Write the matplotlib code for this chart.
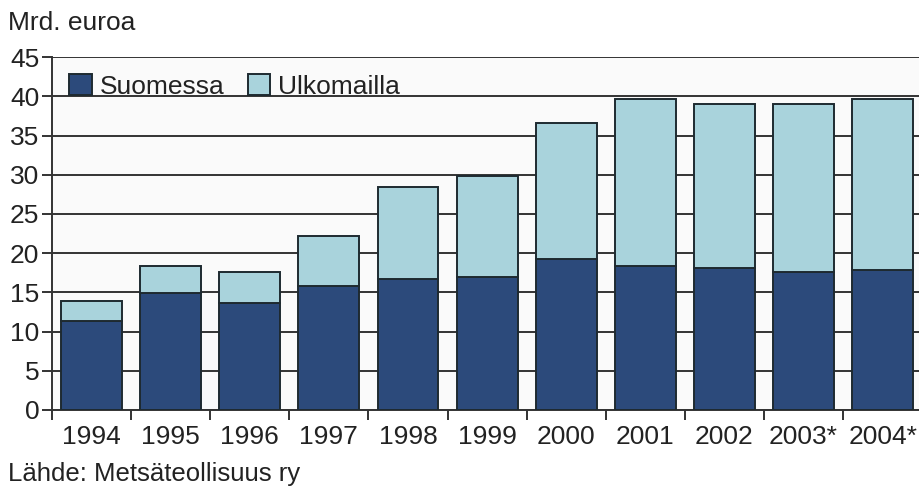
import numpy as np
import matplotlib.pyplot as plt

plt.rcParams['font.family'] = ['Liberation Sans', 'DejaVu Sans']

years = ['1994', '1995', '1996', '1997', '1998', '1999', '2000', '2001', '2002', '2003*', '2004*']
suomessa = [11.3, 14.9, 13.7, 15.8, 16.7, 17.0, 19.3, 18.4, 18.1, 17.6, 17.8]
yhteensa = [13.9, 18.4, 17.6, 22.2, 28.4, 29.8, 36.6, 39.7, 39.0, 39.0, 39.7]
ulkomailla = [t - s for t, s in zip(yhteensa, suomessa)]

dark = '#2c4a7b'
light = '#a9d3dc'
edge = '#1e2a30'

fig = plt.figure(figsize=(9.2, 4.88), dpi=100)
ax = fig.add_axes([0.0565, 0.16, 0.946, 0.723])
ax.set_facecolor('#fafafa')

x = np.arange(len(years))
ax.bar(x, suomessa, width=0.77, color=dark, edgecolor=edge, linewidth=1.4,
       label='Suomessa', zorder=3)
ax.bar(x, ulkomailla, width=0.77, bottom=suomessa, color=light, edgecolor=edge,
       linewidth=1.4, label='Ulkomailla', zorder=3)

ax.set_xlim(-0.5, len(years) - 0.5)
ax.set_ylim(0, 45)
ax.set_yticks(range(0, 50, 5))
ax.yaxis.grid(True, color='#333333', linewidth=1.4, zorder=0)

# year labels at bar centres, tick marks between the bars
ax.set_xticks(x)
ax.set_xticklabels(years, fontsize=19, color='#222222')
ax.tick_params(axis='x', length=0, pad=11)
ax.set_xticks(np.arange(-0.5, len(years) - 0.5, 1), minor=True)
ax.tick_params(axis='x', which='minor', length=7, width=1.4, color='#333333')
ax.tick_params(axis='y', labelsize=19, labelcolor='#222222', length=7, width=1.4,
               color='#333333', pad=2)

for side in ['top', 'right']:
    ax.spines[side].set_visible(False)
for side in ['left', 'bottom']:
    ax.spines[side].set_color('#333333')
    ax.spines[side].set_linewidth(1.4)

ax.legend(loc='upper left', ncol=2, frameon=False, fontsize=19,
          handlelength=0.85, handleheight=0.85, handletextpad=0.3,
          columnspacing=0.9, borderaxespad=0.25, labelcolor='#222222')

fig.text(0.009, 0.952, 'Mrd. euroa', fontsize=19, color='#222222', va='center')
fig.text(0.009, 0.028, 'Lähde: Metsäteollisuus ry', fontsize=18.5, color='#222222',
         va='center')

fig.savefig('out.png', dpi=100)
